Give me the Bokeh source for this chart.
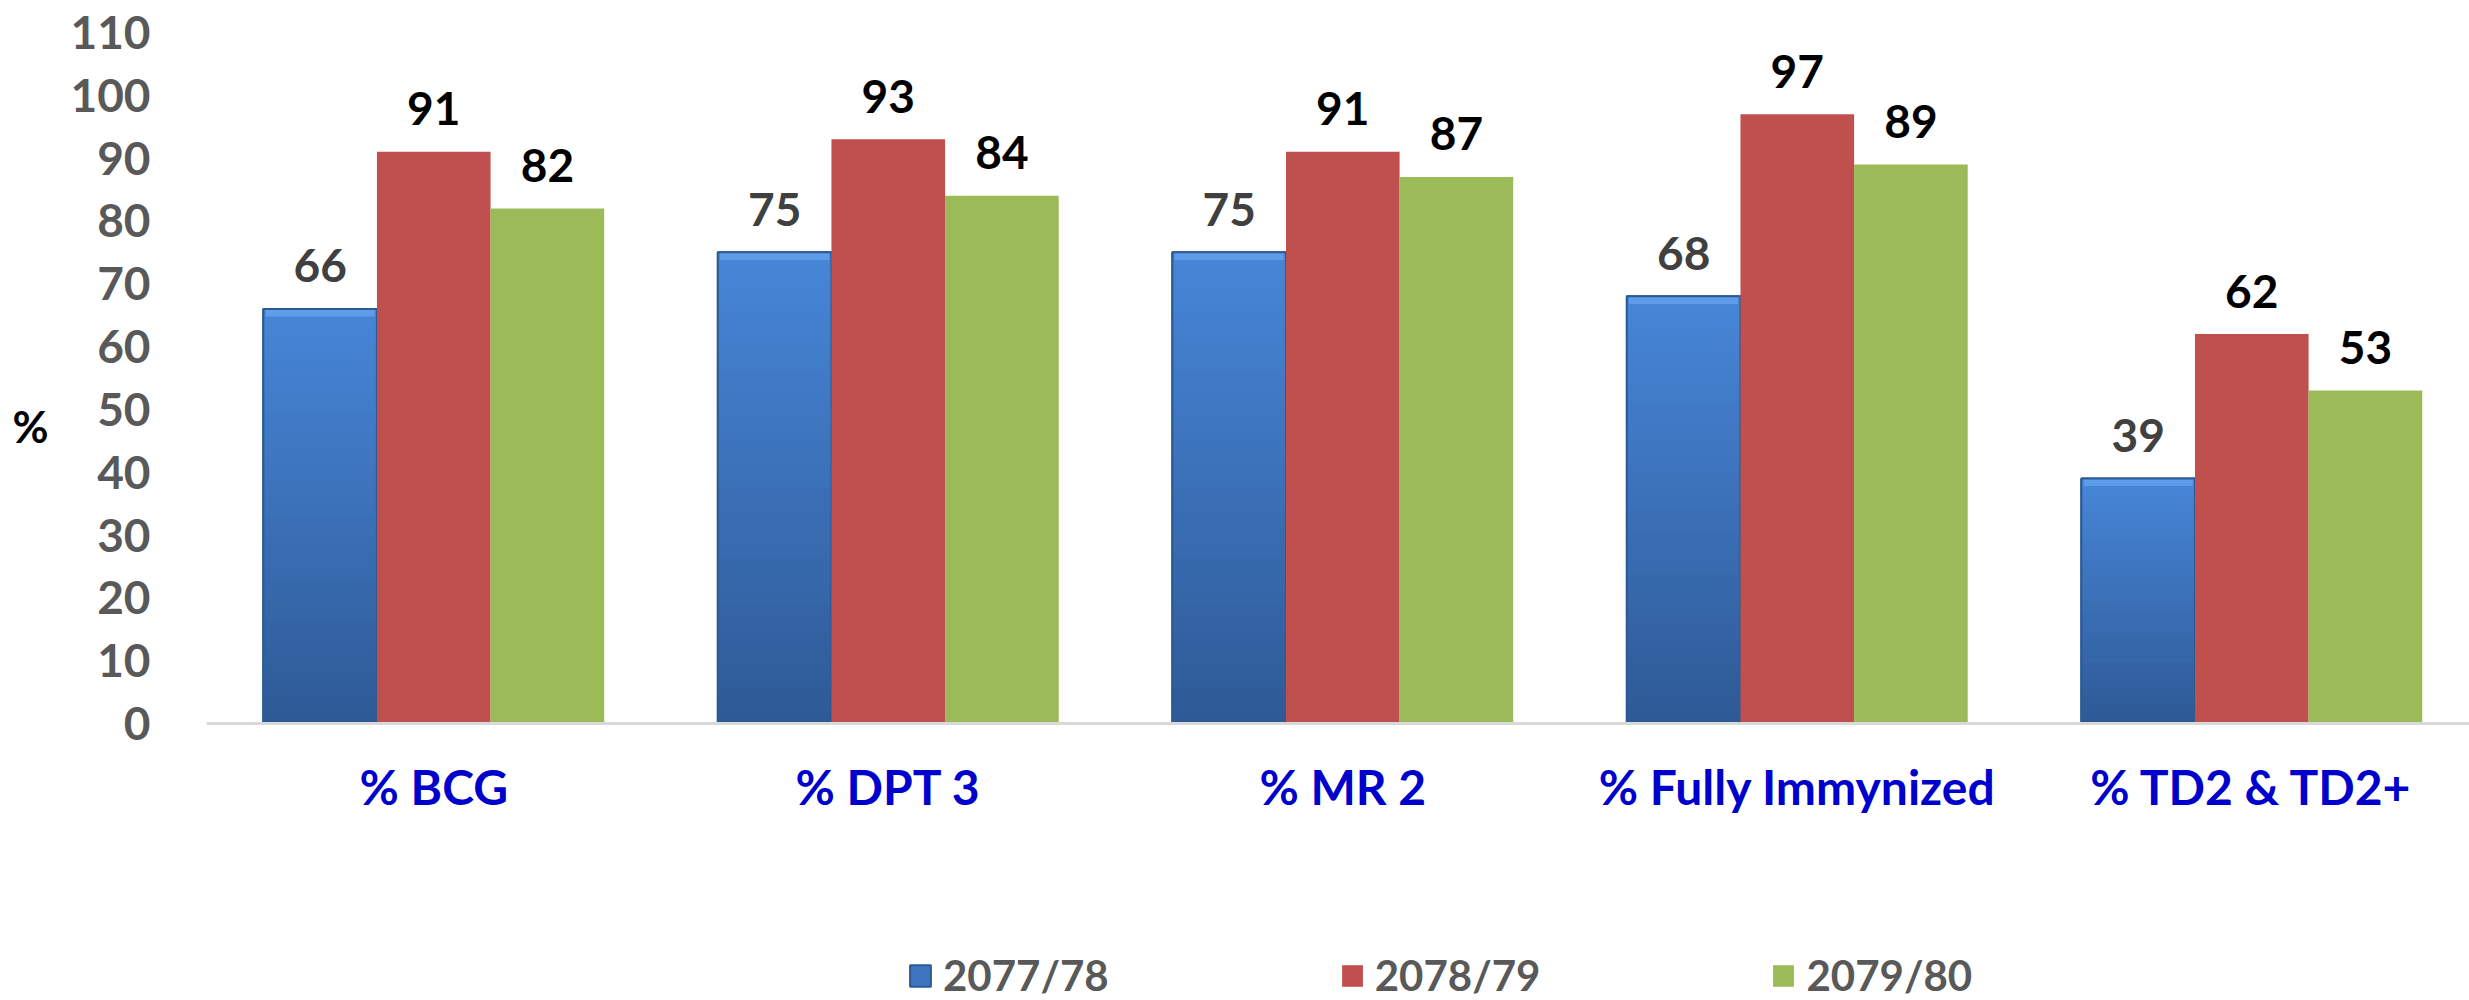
import numpy as np
from bokeh.plotting import figure
from bokeh.models import (Range1d, FixedTicker, Legend, LegendItem, LinearAxis, Span)
from bokeh.core.properties import value
from bokeh.embed import file_html
from bokeh.resources import INLINE

categories = ["% BCG", "% DPT 3", "% MR 2", "% Fully Immynized", "% TD2 & TD2+"]
series_names = ["2077/78", "2078/79", "2079/80"]
v_2077_78 = [66, 75, 75, 68, 39]
v_2078_79 = [91, 93, 91, 97, 62]
v_2079_80 = [82, 84, 87, 89, 53]
y_ticks = [0, 10, 20, 30, 40, 50, 60, 70, 80, 90, 100, 110]
y_title = "%"

FONT = "Lato"
BLUE_TOP = np.array([0x47, 0x86, 0xD8])
BLUE_BOT = np.array([0x2E, 0x5A, 0x96])
RED = "#C0504D"
GREEN = "#9BBB59"

x = np.arange(len(categories), dtype=float)
W = 0.25
offsets = [-W, 0.0, W]

# frame spans down to the bottom of the canvas so the legend can live inside it
p = figure(width=2469, height=1000, output_backend="svg", toolbar_location=None,
           x_range=Range1d(-0.5, 4.479), y_range=Range1d(-44.09, 110),
           x_axis_location=None,
           min_border_left=206, min_border_right=0, min_border_top=32,
           min_border_bottom=0, outline_line_color=None)
p.xgrid.visible = False
p.ygrid.visible = False

# --- blue bars: solid base, then vertical gradient (nested rects, largest first) ---
r_blue = p.vbar(x=x + offsets[0], bottom=0, top=v_2077_78, width=W,
                fill_color="#3C75C0", line_color="#2C5A94", line_width=2)
N = 40
seg_x, seg_t, seg_c = [], [], []
for xi, v in zip(x + offsets[0], v_2077_78):
    for i in reversed(range(N)):
        t = (i + 0.5) / N
        c = BLUE_BOT + (BLUE_TOP - BLUE_BOT) * t
        seg_x.append(xi)
        seg_t.append(v * (i + 1) / N)
        seg_c.append("#%02x%02x%02x" % tuple(int(round(k)) for k in c))
p.vbar(x=seg_x, bottom=0, top=seg_t, width=W, fill_color=seg_c, line_color=None)
p.vbar(x=x + offsets[0], bottom=[v - 1.2 for v in v_2077_78], top=v_2077_78,
       width=W * 0.96, fill_color="#5F9DEA", line_color=None)
p.vbar(x=x + offsets[0], bottom=0, top=v_2077_78, width=W,
       fill_color=None, line_color="#2C5A94", line_width=2)

r_red = p.vbar(x=x + offsets[1], bottom=0, top=v_2078_79, width=W,
               fill_color=RED, line_color=None)
r_green = p.vbar(x=x + offsets[2], bottom=0, top=v_2079_80, width=W,
                 fill_color=GREEN, line_color=None)

# category axis line at zero and category labels
p.add_layout(Span(location=0, dimension="width", line_color="#D9D9D9", line_width=3))
p.text(x=x, y=[0] * len(categories), text=categories, text_align="center",
       text_baseline="alphabetic", y_offset=63, text_font=value(FONT),
       text_font_style="bold", text_font_size="48px", text_color="#0000CC")

# --- data labels ---
label_colors = ["#404040", "#000000", "#000000"]
for off, vals, col in zip(offsets, [v_2077_78, v_2078_79, v_2079_80], label_colors):
    p.text(x=x + off, y=vals, text=[str(v) for v in vals],
           text_align="center", text_baseline="alphabetic", y_offset=-43,
           text_font=value(FONT), text_font_style="bold",
           text_font_size="46px", text_color=col)

# --- value axis ---
p.yaxis.ticker = FixedTicker(ticks=y_ticks)
p.yaxis.axis_line_color = None
p.yaxis.major_tick_line_color = None
p.yaxis.minor_tick_line_color = None
p.yaxis.major_label_text_font = FONT
p.yaxis.major_label_text_font_style = "bold"
p.yaxis.major_label_text_font_size = "46px"
p.yaxis.major_label_text_color = "#595959"
p.yaxis.major_label_standoff = 50

title_axis = LinearAxis(ticker=FixedTicker(ticks=[47.4]),
                        major_label_overrides={47.4: y_title},
                        axis_line_color=None, major_tick_line_color=None,
                        minor_tick_line_color=None,
                        major_label_text_font=FONT,
                        major_label_text_font_style="bold",
                        major_label_text_font_size="44px",
                        major_label_text_color="#000000",
                        major_label_standoff=13)
p.add_layout(title_axis, "left")

legend = Legend(items=[LegendItem(label=series_names[0], renderers=[r_blue]),
                       LegendItem(label=series_names[1], renderers=[r_red]),
                       LegendItem(label=series_names[2], renderers=[r_green])],
                orientation="horizontal", location=(701, 0),
                glyph_width=26, glyph_height=27, label_standoff=10,
                spacing=230, padding=0, margin=0, border_line_color=None,
                background_fill_alpha=0,
                label_text_font=FONT, label_text_font_style="bold",
                label_text_font_size="42px", label_text_color="#595959")
p.add_layout(legend, "center")

open("out.html", "w").write(file_html(p, INLINE))
